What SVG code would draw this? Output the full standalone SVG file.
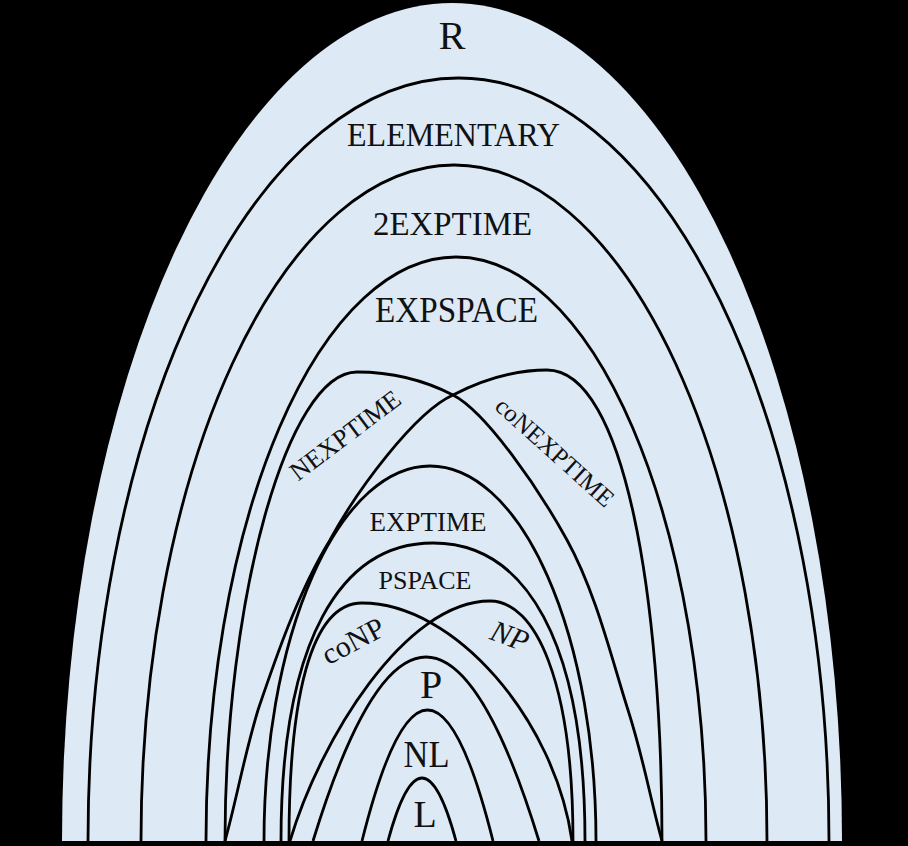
<svg xmlns="http://www.w3.org/2000/svg" width="908" height="846" viewBox="0 0 908 846">
<style>
.outer{fill:#dde9f5;stroke:none}
.c{fill:none;stroke:#000;stroke-width:2.8}
.t{font-family:"Liberation Serif","Times New Roman",serif;fill:#111;text-anchor:middle}
.i{font-style:italic}
</style>
<rect x="0" y="0" width="908" height="846" fill="#000"/>
<g id="n-R">
<path class="outer" d="M 62 841 A 390 838 0 0 1 842 841 Z"/>
<text class="t" x="452" y="49" font-size="40">R</text>
</g>
<g id="n-ELEMENTARY">
<path class="c" d="M 88 841 A 370.5 763 0 0 1 829 841"/>
<text class="t" x="453.5" y="146" font-size="34" textLength="213" lengthAdjust="spacingAndGlyphs">ELEMENTARY</text>
</g>
<g id="n-2EXPTIME">
<path class="c" d="M 141 841 A 313 676 0 0 1 767 841"/>
<text class="t" x="452.5" y="235" font-size="34" textLength="159" lengthAdjust="spacingAndGlyphs">2EXPTIME</text>
</g>
<g id="n-EXPSPACE">
<path class="c" d="M 206 841 A 250 584 0 0 1 706 841"/>
<text class="t" x="456.5" y="322" font-size="35" textLength="163" lengthAdjust="spacingAndGlyphs">EXPSPACE</text>
</g>
<g id="n-NEXPTIME">
<path class="c" d="M 225 841 C 225 600 287 372 357 372 C 389 372 420 378 453 395 C 486 412 538 487.5 567 540 C 596 592.5 612 660 628 710 C 644 760 650 798 662 841"/>
<text class="t" transform="translate(345 435) rotate(-37)" x="0" y="9" font-size="26">NEXPTIME</text>
</g>
<g id="n-coNEXPTIME">
<path class="c" d="M 225 841 C 237 798 243 760 258 710 C 275 660 298 592 330 540 C 357 490 415 412 453 395 C 486 378 515 370 547 370 C 625 370 662 600 662 841"/>
<text class="t" transform="translate(555 452) rotate(42)" x="0" y="8.5" font-size="25">coNEXPTIME</text>
</g>
<g id="n-EXPTIME">
<path class="c" d="M 264 841 A 166 375 0 0 1 596 841"/>
<text class="t" x="428" y="531" font-size="27">EXPTIME</text>
</g>
<g id="n-PSPACE">
<path class="c" d="M 281 841 C 281 640 341 543 433 543 C 525 543 585 640 585 841"/>
<text class="t" x="425" y="589" font-size="26">PSPACE</text>
</g>
<g id="n-coNP">
<path class="c" d="M 289 841 C 289 700 310 603 362 603 C 455 603 555 720 572 841"/>
<text class="t" transform="translate(353 641) rotate(-28)" x="0" y="10" font-size="30">coNP</text>
</g>
<g id="n-NP">
<path class="c" d="M 290 841 C 320 740 405 601 490 601 C 535 601 573 680 573 841"/>
<text class="t i" transform="translate(510 636) rotate(20)" x="0" y="10" font-size="30">NP</text>
</g>
<g id="n-P">
<path class="c" d="M 313 841 Q 426 473 539 841"/>
<text class="t" x="431" y="698" font-size="40">P</text>
</g>
<g id="n-NL">
<path class="c" d="M 362 841 Q 427.5 579 493 841"/>
<text class="t" x="426.5" y="767" font-size="38" textLength="46" lengthAdjust="spacingAndGlyphs">NL</text>
</g>
<g id="n-L">
<path class="c" d="M 388 841 Q 422 715 456 841"/>
<text class="t" x="425" y="827" font-size="38">L</text>
</g>
<g id="connectors"></g>
</svg>
